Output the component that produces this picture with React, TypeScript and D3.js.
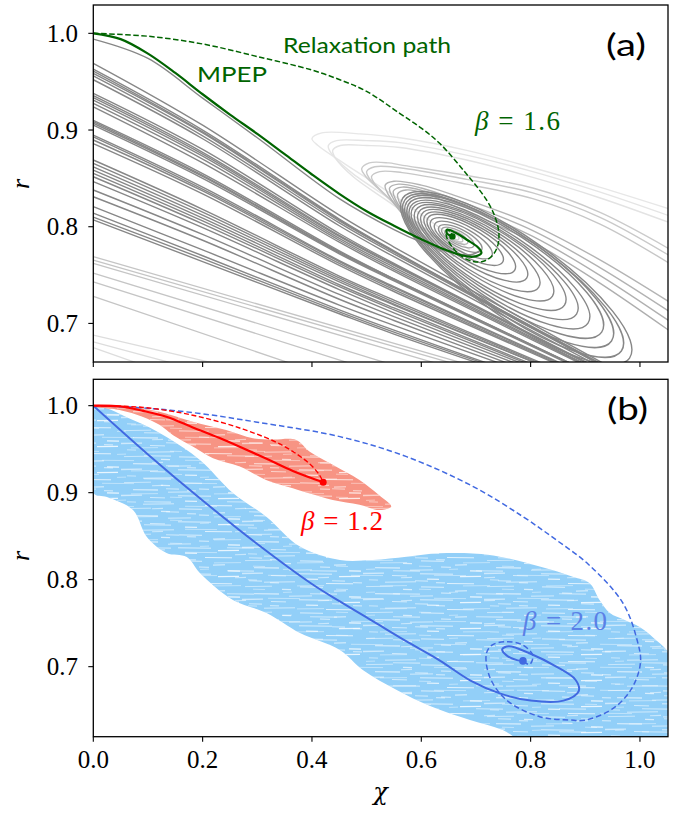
import React from 'react';
import * as d3 from 'd3';

type P = [number, number];

const W = 679;
const H = 815;

// ---------- axes ----------
const xTicks = [0, 0.2, 0.4, 0.6, 0.8, 1.0];
const xTickLabels = ['0.0', '0.2', '0.4', '0.6', '0.8', '1.0'];
const yTicks = [0.7, 0.8, 0.9, 1.0];
const yTickLabels = ['0.7', '0.8', '0.9', '1.0'];
const xDomain: P = [0, 1.0513];
const yDomainA: P = [0.6601, 1.0293];
const yDomainB: P = [0.6195, 1.0303];

// ---------- panel (a) ----------
const mpepA: P[] = [[0, 1.0], [0.05, 0.994], [0.1, 0.979], [0.15, 0.959], [0.2, 0.937], [0.25, 0.916], [0.3, 0.896], [0.35, 0.875], [0.4, 0.854], [0.45, 0.834], [0.5, 0.816], [0.55, 0.801], [0.6, 0.787], [0.64, 0.777], [0.67, 0.771], [0.695, 0.769], [0.71, 0.773], [0.703, 0.779], [0.685, 0.786], [0.662, 0.794], [0.647, 0.797], [0.647, 0.793], [0.657, 0.79]];
const relaxA: P[] = [[0, 1], [0.1, 0.997], [0.2, 0.989], [0.3, 0.976], [0.4, 0.962], [0.451, 0.952], [0.5, 0.94], [0.561, 0.917], [0.6, 0.902], [0.634, 0.886], [0.682, 0.855], [0.719, 0.828], [0.735, 0.81], [0.742, 0.793], [0.739, 0.779], [0.728, 0.769], [0.712, 0.764], [0.695, 0.764], [0.675, 0.769], [0.658, 0.778], [0.646, 0.79], [0.647, 0.797], [0.654, 0.794], [0.657, 0.79]];
const fixedA: P = [0.657, 0.79];

// trajectory closest to the MPEP, ending in the small loop
const nearMpepA: P[] = [[0, 0.994], [0.1, 0.974], [0.2, 0.933], [0.3, 0.892], [0.45, 0.829], [0.55, 0.797], [0.6, 0.784], [0.65, 0.774], [0.69, 0.771], [0.71, 0.776]];

// bundle of trajectories from the left edge: [r(0), r(0.2), r(0.45), r(0.55), exit chi at bottom]
const bundleA: number[][] = [
  [0.969, 0.905, 0.812, 0.779, 0.945],
  [0.963, 0.9, 0.808, 0.775, 0.937],
  [0.961, 0.898, 0.807, 0.774, 0.936],
  [0.9586, 0.897, 0.806, 0.774, 0.94],
  [0.956, 0.894, 0.804, 0.772, 0.935],
  [0.952, 0.891, 0.801, 0.769, 0.927],
  [0.938, 0.88, 0.793, 0.762, 0.919],
  [0.9355, 0.877, 0.791, 0.761, 0.917],
  [0.9334, 0.875, 0.79, 0.76, 0.916],
  [0.931, 0.873, 0.788, 0.758, 0.91],
  [0.9276, 0.87, 0.786, 0.756, 0.907],
  [0.924, 0.866, 0.784, 0.754, 0.904],
  [0.91, 0.855, 0.775, 0.746, 0.887],
  [0.9086, 0.853, 0.774, 0.746, 0.887],
  [0.907, 0.852, 0.773, 0.745, 0.886],
  [0.905, 0.85, 0.772, 0.744, 0.882],
  [0.8948, 0.841, 0.765, 0.738, 0.87],
  [0.893, 0.839, 0.764, 0.737, 0.867],
  [0.8897, 0.837, 0.762, 0.735, 0.863],
  [0.886, 0.834, 0.76, 0.733, 0.86],
  [0.869, 0.818, 0.749, 0.724, 0.837],
  [0.8655, 0.815, 0.747, 0.722, 0.833],
  [0.862, 0.812, 0.745, 0.72, 0.828],
  [0.8586, 0.809, 0.743, 0.719, 0.827],
  [0.8552, 0.806, 0.74, 0.716, 0.815],
  [0.8517, 0.803, 0.738, 0.714, 0.809],
  [0.8466, 0.799, 0.735, 0.711, 0.801],
  [0.838, 0.792, 0.73, 0.707, 0.79],
  [0.831, 0.786, 0.725, 0.703, 0.776],
  [0.8207, 0.776, 0.719, 0.698, 0.762],
  [0.814, 0.77, 0.714, 0.693, 0.74],
  [0.81, 0.767, 0.712, 0.691, 0.734],
  [0.807, 0.764, 0.71, 0.689, 0.725],
];

// faint trajectories low on the left: [r(0), exit chi]
const faintLowA: number[][] = [
  [0.769, 0.7], [0.7655, 0.68], [0.762, 0.65], [0.752, 0.56], [0.743, 0.49], [0.728, 0.38],
];
const fainterLowA: number[][] = [[0.688, 0.25], [0.681, 0.17], [0.675, 0.1]];

// loops around the fixed point: [upper-left tip chi, r, lower-right tip chi, r, minor/major]
const ringsA: number[][] = [
  [0.5662, 0.8297, 0.981, 0.6642, 0.29],
  [0.5698, 0.8276, 0.966, 0.6715, 0.29],
  [0.5735, 0.8256, 0.948, 0.6818, 0.3],
  [0.5771, 0.8235, 0.93, 0.6911, 0.3],
  [0.5808, 0.8214, 0.905, 0.7004, 0.3],
  [0.5845, 0.8194, 0.884, 0.7097, 0.3],
  [0.59, 0.8173, 0.862, 0.719, 0.31],
  [0.5955, 0.8152, 0.84, 0.7283, 0.31],
  [0.601, 0.8131, 0.815, 0.7376, 0.32],
  [0.6065, 0.8111, 0.793, 0.747, 0.32],
  [0.612, 0.809, 0.7709, 0.7552, 0.33],
  [0.6175, 0.8059, 0.749, 0.7635, 0.34],
  [0.6248, 0.8028, 0.7289, 0.7697, 0.35],
  [0.6321, 0.7997, 0.7106, 0.7759, 0.36],
  [0.6376, 0.7976, 0.696, 0.7801, 0.37],
  [0.6431, 0.7956, 0.685, 0.7832, 0.38],
  [0.6467, 0.7945, 0.6759, 0.7852, 0.4],
  [0.6504, 0.7935, 0.6686, 0.7873, 0.42],
];
const ringTone = [1, 1, 1, 1, 1, 1, 1, 1, 1, 1, 1, 1, 0.95, 0.9, 0.75, 0.6, 0.45, 0.3];

// large outer loops (open): lower branch -> upper-left tip -> upper branch leaving at right
const loopsA: P[][] = [
  [[0.689, 0.776], [0.561, 0.828], [0.46, 0.865], [0.411, 0.884], [0.4, 0.891], [0.418, 0.897], [0.488, 0.896], [0.561, 0.892], [0.683, 0.879], [0.804, 0.861], [0.926, 0.841], [1.073, 0.815]],
  [[0.68, 0.772], [0.56, 0.822], [0.47, 0.857], [0.435, 0.876], [0.43, 0.884], [0.445, 0.889], [0.5, 0.889], [0.561, 0.887], [0.683, 0.874], [0.804, 0.857], [0.926, 0.836], [1.06, 0.81]],
  [[0.67, 0.77], [0.56, 0.818], [0.475, 0.852], [0.443, 0.871], [0.438, 0.879], [0.452, 0.884], [0.5, 0.884], [0.561, 0.882], [0.683, 0.869], [0.804, 0.851], [0.926, 0.83], [1.06, 0.803]],
  [[0.66, 0.775], [0.58, 0.81], [0.52, 0.84], [0.497, 0.853], [0.491, 0.86], [0.505, 0.866], [0.54, 0.866], [0.561, 0.864], [0.683, 0.853], [0.804, 0.84], [0.926, 0.815], [1.06, 0.775]],
  [[0.66, 0.772], [0.585, 0.806], [0.53, 0.835], [0.505, 0.85], [0.5, 0.857], [0.515, 0.862], [0.56, 0.861], [0.683, 0.849], [0.804, 0.835], [0.926, 0.81], [1.06, 0.768]],
  [[0.66, 0.769], [0.59, 0.802], [0.54, 0.83], [0.514, 0.845], [0.509, 0.852], [0.524, 0.857], [0.565, 0.856], [0.683, 0.844], [0.804, 0.829], [0.926, 0.803], [1.06, 0.76]],
  [[0.62, 0.78], [0.57, 0.81], [0.54, 0.833], [0.534, 0.843], [0.55, 0.847], [0.6, 0.843], [0.658, 0.833], [0.804, 0.802], [0.926, 0.766], [1.06, 0.72]],
  [[0.625, 0.778], [0.575, 0.808], [0.547, 0.831], [0.542, 0.84], [0.558, 0.844], [0.6, 0.84], [0.658, 0.829], [0.804, 0.796], [0.926, 0.758], [1.06, 0.71]],
  [[0.63, 0.776], [0.58, 0.806], [0.553, 0.828], [0.549, 0.837], [0.565, 0.841], [0.605, 0.837], [0.658, 0.826], [0.804, 0.79], [0.926, 0.75], [1.06, 0.7]],
  [[0.635, 0.774], [0.585, 0.803], [0.56, 0.825], [0.557, 0.834], [0.572, 0.838], [0.61, 0.834], [0.658, 0.822], [0.804, 0.784], [0.926, 0.742], [1.06, 0.69]],
];
const loopTone = [0.1, 0.12, 0.14, 0.36, 0.38, 0.4, 0.58, 0.6, 0.62, 0.64];

// ---------- panel (b) ----------
const redSolidB: P[] = [[0, 1], [0.05, 0.999], [0.091, 0.994], [0.135, 0.987], [0.182, 0.975], [0.23, 0.963], [0.274, 0.951], [0.32, 0.938], [0.365, 0.925], [0.4205, 0.912]];
const redDashB: P[] = [[0, 1], [0.091, 0.998], [0.182, 0.989], [0.274, 0.973], [0.347, 0.954], [0.396, 0.933], [0.414, 0.92], [0.4205, 0.912]];
const redEndB: P = [0.4205, 0.912];
const blueSolidB: P[] = [[0, 1], [0.1, 0.944], [0.2, 0.891], [0.3, 0.841], [0.4, 0.795], [0.451, 0.775], [0.512, 0.752], [0.573, 0.729], [0.634, 0.707], [0.69, 0.684], [0.745, 0.669], [0.8, 0.661], [0.86, 0.661], [0.888, 0.672], [0.882, 0.685], [0.847, 0.7], [0.798, 0.7154], [0.76, 0.7235], [0.748, 0.72], [0.756, 0.713], [0.775, 0.7075], [0.786, 0.7066]];
const blueDashB: P[] = [[0, 1], [0.1, 0.997], [0.195, 0.991], [0.3, 0.981], [0.451, 0.9644], [0.573, 0.9414], [0.695, 0.907], [0.786, 0.8724], [0.847, 0.8456], [0.905, 0.818], [0.969, 0.7729], [0.995, 0.73], [1.001, 0.705], [0.985, 0.675], [0.951, 0.652], [0.9, 0.6385], [0.8715, 0.6387], [0.8166, 0.6425], [0.7557, 0.6617], [0.725, 0.6885], [0.7192, 0.7154], [0.73, 0.725], [0.7557, 0.7287], [0.785, 0.725], [0.804, 0.713], [0.798, 0.7025], [0.786, 0.7066]];
const blueEndB: P = [0.786, 0.7066];

const redCloudTop: P[] = [[0, 1.0], [0.06, 1.0], [0.121, 0.993], [0.182, 0.9816], [0.243, 0.972], [0.292, 0.9625], [0.328, 0.961], [0.371, 0.9606], [0.396, 0.947], [0.438, 0.932], [0.487, 0.9146], [0.523, 0.897], [0.545, 0.884]];
const redCloudBottom: P[] = [[0.523, 0.88], [0.487, 0.886], [0.438, 0.8916], [0.396, 0.899], [0.365, 0.905], [0.316, 0.9146], [0.268, 0.93], [0.219, 0.9395], [0.182, 0.953], [0.146, 0.966], [0.121, 0.978], [0.091, 0.987], [0.048, 0.995], [0, 0.999]];
const blueCloudTop: P[] = [[0, 0.997], [0.0726, 0.9836], [0.134, 0.964], [0.195, 0.9376], [0.2554, 0.8997], [0.317, 0.8721], [0.378, 0.838], [0.451, 0.8226], [0.5113, 0.8226], [0.573, 0.8264], [0.634, 0.8303], [0.7252, 0.8284], [0.8166, 0.815], [0.877, 0.8034], [0.908, 0.796], [0.926, 0.7767], [0.945, 0.7617], [0.972, 0.7537], [0.9995, 0.7456], [1.023, 0.734], [1.06, 0.7077]];
const blueCloudBottom: P[] = [[1.06, 0.61], [0.798, 0.61], [0.749, 0.6272], [0.689, 0.6387], [0.616, 0.6548], [0.555, 0.6732], [0.493, 0.6962], [0.451, 0.7192], [0.378, 0.7387], [0.317, 0.7617], [0.2554, 0.7767], [0.195, 0.8077], [0.171, 0.8261], [0.134, 0.8307], [0.098, 0.849], [0.0726, 0.88], [0.025, 0.895], [0, 0.8997]];

// ---------- component ----------
const serif = '"Liberation Serif", "DejaVu Serif", serif';
const sans = 'Lato, "Open Sans", "DejaVu Sans", sans-serif';
const GREEN = '#006400';
const BLUE = '#4169e1';

// irregular white streak texture (style only) for the noisy clouds
const streakSegs: number[][] = [
  [0, 1.5, 21, 1.2], [29, 3.5, 44, 3.9], [57, 1.8, 90, 2.2], [97, 4.6, 118, 4.3],
  [6, 7.8, 15, 8.1], [22, 10.2, 53, 9.8], [64, 7.1, 76, 7.4], [84, 11.5, 111, 11.8],
  [3, 14.6, 30, 14.2], [40, 17.3, 49, 17.6], [58, 14.9, 81, 15.3], [92, 19.1, 104, 18.8],
  [12, 21.7, 37, 22.0], [47, 24.2, 70, 23.9], [78, 21.0, 88, 21.3], [107, 24.8, 119, 25.1],
];
const streakSegs2: number[][] = [
  [4, 2.6, 13, 2.9], [31, 5.9, 58, 5.6], [66, 0.8, 79, 1.1], [17, 12.4, 26, 12.1],
  [44, 13.8, 71, 14.1], [2, 18.3, 34, 18.6], [52, 20.7, 63, 20.4], [70, 9.2, 82, 9.5],
];

export default function App() {
  const x = d3.scaleLinear().domain(xDomain).range([93.3, 668]);
  const yA = d3.scaleLinear().domain(yDomainA).range([362, 5]);
  const yB = d3.scaleLinear().domain(yDomainB).range([736.7, 379.3]);
  const tone = (t: number) => d3.interpolateRgb('#f2f2f2', '#878787')(t);

  const lineA = d3.line<P>().x(d => x(d[0])).y(d => yA(d[1])).curve(d3.curveCatmullRom.alpha(0.5));
  const lineB = d3.line<P>().x(d => x(d[0])).y(d => yB(d[1])).curve(d3.curveCatmullRom.alpha(0.5));
  const areaB = d3.line<P>().x(d => x(d[0])).y(d => yB(d[1])).curve(d3.curveCatmullRomClosed.alpha(0.5));

  const bundlePts = (row: number[]): P[] => [[0, row[0]], [0.2, row[1]], [0.45, row[2]], [0.55, row[3]], [row[4], 0.655]];

  const ring = (row: number[]) => {
    const x1 = x(row[0]), y1 = yA(row[1]), x2 = x(row[2]), y2 = yA(row[3]);
    const cx = (x1 + x2) / 2, cy = (y1 + y2) / 2;
    const a = Math.hypot(x2 - x1, y2 - y1) / 2;
    const ang = (Math.atan2(y2 - y1, x2 - x1) * 180) / Math.PI;
    return { cx, cy, rx: a, ry: a * row[4], ang };
  };

  const axisFrame = (y: d3.ScaleLinear<number, number>, top: number, bottom: number, showX: boolean) => (
    <g>
      <rect x={93.3} y={top} width={668 - 93.3} height={bottom - top} fill="none" stroke="#000" strokeWidth={1.3} />
      {xTicks.map((t, i) => (
        <g key={'x' + i}>
          <line x1={x(t)} x2={x(t)} y1={bottom} y2={bottom + 5} stroke="#000" strokeWidth={1.1} />
          {showX && (
            <text x={x(t)} y={768} textAnchor="middle" fontFamily={serif} fontSize={25}>{xTickLabels[i]}</text>
          )}
        </g>
      ))}
      {yTicks.map((t, i) => (
        <g key={'y' + i}>
          <line x1={88.3} x2={93.3} y1={y(t)} y2={y(t)} stroke="#000" strokeWidth={1.1} />
          <text x={78} y={y(t) + 8.5} textAnchor="end" fontFamily={serif} fontSize={25}>{yTickLabels[i]}</text>
        </g>
      ))}
    </g>
  );

  const cloudBlue = areaB([...blueCloudTop, ...blueCloudBottom]) || '';
  const cloudRed = areaB([...redCloudTop, ...redCloudBottom]) || '';

  return (
    <svg width={W} height={H} style={{ position: 'absolute', left: 0, top: 0, background: '#fff' }}>
      <defs>
        <clipPath id="clipA"><rect x={93.3} y={5} width={668 - 93.3} height={357} /></clipPath>
        <clipPath id="clipB"><rect x={93.3} y={379.3} width={668 - 93.3} height={736.7 - 379.3} /></clipPath>
        <pattern id="streaks" patternUnits="userSpaceOnUse" width={121} height={26}>
          {streakSegs.map((s, i) => (
            <line key={i} x1={s[0]} y1={s[1]} x2={s[2]} y2={s[3]} stroke="#fff" strokeWidth={i % 3 === 0 ? 1.3 : 0.9} strokeOpacity={0.55 + (i % 4) * 0.08} />
          ))}
        </pattern>
        <pattern id="streaks2" patternUnits="userSpaceOnUse" width={83} height={23} x={17} y={5}>
          {streakSegs2.map((s, i) => (
            <line key={i} x1={s[0]} y1={s[1]} x2={s[2]} y2={s[3]} stroke="#fff" strokeWidth={i % 2 === 0 ? 1.1 : 0.8} strokeOpacity={0.5} />
          ))}
        </pattern>
      </defs>
      <rect x={0} y={0} width={W} height={H} fill="#fff" />

      {/* ---------- panel (a) ---------- */}
      <g clipPath="url(#clipA)" fill="none">
        {fainterLowA.map((r, i) => (
          <path key={'ff' + i} d={lineA([[0, r[0]], [r[1], 0.655]]) || ''} stroke={tone(0.2)} strokeWidth={1.3} />
        ))}
        {faintLowA.map((r, i) => (
          <path key={'fl' + i} d={lineA([[0, r[0]], [r[1], 0.655]]) || ''} stroke={tone(0.42)} strokeWidth={1.3} />
        ))}
        {loopsA.map((pts, i) => (
          <path key={'lp' + i} d={lineA(pts) || ''} stroke={tone(loopTone[i])} strokeWidth={1.4} />
        ))}
        {ringsA.map((row, i) => {
          const e = ring(row);
          return (
            <ellipse key={'rg' + i} cx={e.cx} cy={e.cy} rx={e.rx} ry={e.ry}
              transform={`rotate(${e.ang} ${e.cx} ${e.cy})`} stroke={tone(ringTone[i])} strokeWidth={1.4} />
          );
        })}
        {bundleA.map((row, i) => (
          <path key={'bd' + i} d={lineA(bundlePts(row)) || ''} stroke={tone(1)} strokeWidth={1.4} />
        ))}
        <path d={lineA(nearMpepA) || ''} stroke={tone(1)} strokeWidth={1.4} />
        <path d={lineA(relaxA) || ''} stroke={GREEN} strokeWidth={1.5} strokeDasharray="5.5 2.5" />
        <path d={lineA(mpepA) || ''} stroke={GREEN} strokeWidth={2.2} />
        <circle cx={x(fixedA[0])} cy={yA(fixedA[1])} r={3.2} fill={GREEN} />
      </g>
      {axisFrame(yA, 5, 362, false)}
      <text x={197} y={82} fontFamily={sans} fontSize={22} fill={GREEN} textLength={70} lengthAdjust="spacingAndGlyphs">MPEP</text>
      <text x={283} y={52.5} fontFamily={sans} fontSize={22} fill={GREEN} textLength={168} lengthAdjust="spacingAndGlyphs">Relaxation path</text>
      <text x={475} y={129.5} fontFamily={serif} fontSize={27} fill={GREEN} textLength={85}>
        <tspan fontStyle="italic">β</tspan><tspan> = 1.6</tspan>
      </text>
      <text x={606} y={55.5} fontFamily={sans} fontSize={30} textLength={40} lengthAdjust="spacingAndGlyphs">(a)</text>
      <text transform="translate(28.5,184) rotate(-90)" textAnchor="middle" fontFamily={serif} fontStyle="italic" fontSize={26}>r</text>

      {/* ---------- panel (b) ---------- */}
      <g clipPath="url(#clipB)">
        <path d={cloudBlue} fill="#92cff8" stroke="none" />
        <path d={cloudBlue} fill="url(#streaks)" stroke="none" />
        <path d={cloudBlue} fill="url(#streaks2)" stroke="none" />
        <path d={cloudRed} fill="#f79484" stroke="none" />
        <path d={cloudRed} fill="url(#streaks)" stroke="none" />
        <path d={cloudRed} fill="url(#streaks2)" stroke="none" />
        <text x={523} y={630} fontFamily={serif} fontSize={27} fill="#5b80e6" textLength={84}>
          <tspan fontStyle="italic">β</tspan><tspan> = 2.0</tspan>
        </text>
        <g fill="none">
          <path d={lineB(blueDashB) || ''} stroke={BLUE} strokeWidth={1.5} strokeDasharray="5.5 3" />
          <path d={lineB(blueSolidB) || ''} stroke={BLUE} strokeWidth={2} />
          <path d={lineB(redDashB) || ''} stroke="#ff0000" strokeWidth={1.4} strokeDasharray="5 2.6" />
          <path d={lineB(redSolidB) || ''} stroke="#ff0000" strokeWidth={2.2} />
        </g>
        <circle cx={x(redEndB[0])} cy={yB(redEndB[1])} r={3.5} fill="#ff0000" />
        <circle cx={x(blueEndB[0])} cy={yB(blueEndB[1])} r={3.8} fill={BLUE} />
      </g>
      {axisFrame(yB, 379.3, 736.7, true)}
      <text x={301} y={530} fontFamily={serif} fontSize={27} fill="#ff0000" textLength={82}>
        <tspan fontStyle="italic">β</tspan><tspan> = 1.2</tspan>
      </text>
      <text x={607} y={420} fontFamily={sans} fontSize={30} textLength={41} lengthAdjust="spacingAndGlyphs">(b)</text>
      <text transform="translate(28.5,556) rotate(-90)" textAnchor="middle" fontFamily={serif} fontStyle="italic" fontSize={26}>r</text>
      <text x={380.5} y={800} textAnchor="middle" fontFamily={'"DejaVu Serif", serif'} fontStyle="italic" fontSize={24}>χ</text>
    </svg>
  );
}
